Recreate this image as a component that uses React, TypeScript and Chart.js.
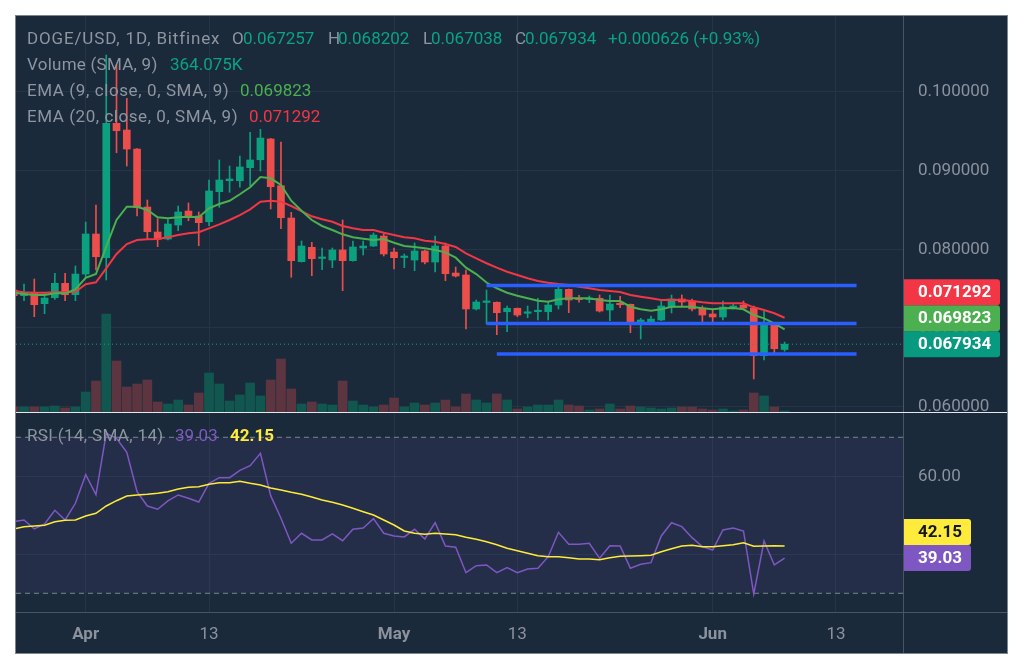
import React, { useEffect, useRef } from 'react';
import { Chart, registerables } from 'chart.js';

Chart.register(...registerables);

// ---- data (daily candles; day 0 = Apr 1, first candle = Mar 25) ----
const START_DAY = -7;
const OPEN = [
  0.07482, 0.07410, 0.07453, 0.07308, 0.07384, 0.07567, 0.07422,
  0.07685, 0.08194, 0.07893, 0.09601, 0.09516, 0.09274, 0.08537, 0.08219, 0.08130, 0.08308,
  0.08486, 0.08423, 0.08350, 0.08732, 0.08871, 0.08871, 0.09037, 0.09138, 0.09402, 0.08808,
  0.08397, 0.07842, 0.08025, 0.07883, 0.07863, 0.07991, 0.07855, 0.08016, 0.08041, 0.08168,
  0.07965, 0.07895, 0.07863, 0.07978, 0.07838, 0.08041, 0.07698, 0.07673, 0.07241, 0.07324,
  0.07326, 0.07206, 0.07250, 0.07186, 0.07206, 0.07206, 0.07291, 0.07491, 0.07377, 0.07359,
  0.07377, 0.07228, 0.07313, 0.07300, 0.07066, 0.07075, 0.07101, 0.07266, 0.07368, 0.07342,
  0.07253, 0.07177, 0.07139, 0.07253, 0.07291, 0.07253, 0.06647, 0.07037, 0.067257,
];
const HIGH = [
  0.07508, 0.07558, 0.07622, 0.07440, 0.07694, 0.07694, 0.07787,
  0.08346, 0.08563, 0.10469, 0.10342, 0.09919, 0.09280, 0.08626, 0.08388, 0.08388, 0.08550,
  0.08588, 0.08474, 0.08880, 0.09135, 0.09058, 0.09185, 0.09487, 0.09525, 0.09410, 0.09363,
  0.08470, 0.08105, 0.08088, 0.08016, 0.08016, 0.08372, 0.08105, 0.08105, 0.08207, 0.08194,
  0.08016, 0.07940, 0.08080, 0.07991, 0.08168, 0.08080, 0.07774, 0.07736, 0.07355, 0.07482,
  0.07330, 0.07279, 0.07252, 0.07279, 0.07377, 0.07326, 0.07546, 0.07495, 0.07415, 0.07406,
  0.07419, 0.07419, 0.07402, 0.07304, 0.07122, 0.07152, 0.07355, 0.07419, 0.07419, 0.07368,
  0.07279, 0.07241, 0.07342, 0.07304, 0.07342, 0.07279, 0.07215, 0.07040, 0.068202,
];
const LOW = [
  0.07380, 0.07346, 0.07143, 0.07181, 0.07364, 0.07346, 0.07346,
  0.07651, 0.07736, 0.07609, 0.09227, 0.09058, 0.08423, 0.08127, 0.08033, 0.08118, 0.08236,
  0.08363, 0.08045, 0.08299, 0.08533, 0.08724, 0.08788, 0.08808, 0.08995, 0.08512, 0.08261,
  0.07644, 0.07838, 0.07664, 0.07740, 0.07766, 0.07473, 0.07850, 0.07927, 0.08035, 0.07914,
  0.07749, 0.07766, 0.07727, 0.07813, 0.07711, 0.07600, 0.07647, 0.06986, 0.07228, 0.07050,
  0.06914, 0.06952, 0.07143, 0.07130, 0.07101, 0.07101, 0.07241, 0.07194, 0.07326, 0.07321,
  0.07202, 0.07092, 0.07257, 0.06939, 0.06859, 0.07066, 0.07092, 0.07190, 0.07279, 0.07215,
  0.07063, 0.07075, 0.07101, 0.07241, 0.07241, 0.06351, 0.06592, 0.06685, 0.067038,
];
const CLOSE = [
  0.07410, 0.07453, 0.07295, 0.07380, 0.07567, 0.07422, 0.07685,
  0.08194, 0.07905, 0.09601, 0.09507, 0.09274, 0.08528, 0.08223, 0.08127, 0.08321, 0.08474,
  0.08406, 0.08338, 0.08741, 0.08880, 0.08893, 0.09046, 0.09135, 0.09414, 0.08795, 0.08401,
  0.07855, 0.08041, 0.07880, 0.07895, 0.07991, 0.07855, 0.08029, 0.08041, 0.08181, 0.07940,
  0.07893, 0.07908, 0.07978, 0.07838, 0.08041, 0.07689, 0.07660, 0.07241, 0.07330, 0.07330,
  0.07194, 0.07250, 0.07164, 0.07202, 0.07215, 0.07291, 0.07491, 0.07355, 0.07359, 0.07365,
  0.07215, 0.07304, 0.07295, 0.07066, 0.07101, 0.07113, 0.07279, 0.07368, 0.07330, 0.07241,
  0.07164, 0.07139, 0.07266, 0.07279, 0.07253, 0.06647, 0.07037, 0.06736, 0.067934,
];
const VOLUME_K = [
  225, 225, 225, 225, 270, 180, 225,
  900, 1395, 4410, 2295, 1125, 1260, 1440, 450, 360, 540,
  315, 855, 1755, 1260, 495, 765, 1305, 720, 1440, 2385,
  1035, 360, 450, 360, 315, 1395, 495, 315, 225, 315,
  630, 225, 405, 315, 405, 540, 225, 810, 540, 405,
  810, 540, 135, 225, 315, 315, 540, 315, 270, 90,
  135, 360, 135, 270, 225, 180, 135, 180, 225, 225,
  135, 90, 135, 45, 90, 855, 720, 225, 45,
];
const EMA9 = [
  0.07448, 0.07431, 0.07419, 0.07419, 0.07440, 0.07440, 0.07491,
  0.07638, 0.07685, 0.08033, 0.08372, 0.08541, 0.08541, 0.08499, 0.08406, 0.08394, 0.08406,
  0.08414, 0.08406, 0.08521, 0.08575, 0.08617, 0.08699, 0.08788, 0.08918, 0.08902, 0.08817,
  0.08617, 0.08490, 0.08372, 0.08296, 0.08245, 0.08190, 0.08152, 0.08134, 0.08118, 0.08130,
  0.08083, 0.08041, 0.08029, 0.08012, 0.07991, 0.07961, 0.07893, 0.07766, 0.07685, 0.07577,
  0.07504, 0.07448, 0.07410, 0.07377, 0.07346, 0.07333, 0.07364, 0.07377, 0.07377, 0.07377,
  0.07355, 0.07342, 0.07342, 0.07270, 0.07237, 0.07219, 0.07237, 0.07270, 0.07270, 0.07270,
  0.07250, 0.07237, 0.07250, 0.07253, 0.07237, 0.07164, 0.07122, 0.07059, 0.069823,
];
const EMA20 = [
  0.07469, 0.07453, 0.07448, 0.07448, 0.07453, 0.07453, 0.07460,
  0.07555, 0.07580, 0.07758, 0.07940, 0.08067, 0.08118, 0.08127, 0.08130, 0.08152, 0.08181,
  0.08203, 0.08216, 0.08266, 0.08317, 0.08372, 0.08435, 0.08508, 0.08605, 0.08617, 0.08605,
  0.08550, 0.08486, 0.08419, 0.08382, 0.08350, 0.08296, 0.08266, 0.08245, 0.08245, 0.08210,
  0.08181, 0.08152, 0.08139, 0.08109, 0.08096, 0.08067, 0.08029, 0.07949, 0.07885, 0.07822,
  0.07766, 0.07715, 0.07673, 0.07631, 0.07597, 0.07575, 0.07558, 0.07546, 0.07524, 0.07504,
  0.07482, 0.07469, 0.07457, 0.07419, 0.07397, 0.07377, 0.07355, 0.07359, 0.07355, 0.07342,
  0.07326, 0.07313, 0.07313, 0.07313, 0.07313, 0.07262, 0.07228, 0.07186, 0.071292,
];
const RSI = [
  48.36, 48.79, 46.49, 47.77, 51.28, 48.79, 53.08,
  60.41, 55.28, 71.03, 69.74, 66.15, 56.05, 52.38, 51.54, 53.67, 55.21,
  54.36, 53.41, 58.21, 59.64, 59.64, 61.54, 62.72, 65.90, 55.03, 49.23,
  42.82, 45.38, 43.67, 43.67, 45.21, 43.49, 46.41, 46.74, 49.13, 45.38,
  44.69, 44.44, 46.41, 43.92, 48.10, 42.13, 41.79, 35.28, 37.08, 37.26,
  35.28, 36.56, 35.28, 36.23, 36.41, 39.38, 45.64, 42.56, 42.56, 42.82,
  38.97, 42.21, 42.13, 36.41, 37.44, 37.85, 44.69, 48.10, 47.08, 44.26,
  41.95, 41.10, 46.23, 46.74, 45.97, 29.82, 43.41, 37.26, 39.03,
];
const RSI_MA = [
  46.49, 47.08, 47.26, 47.44, 48.36, 48.72, 48.79,
  49.82, 50.51, 52.38, 53.74, 54.95, 55.21, 55.38, 55.64, 56.05, 56.74,
  57.18, 57.33, 57.95, 58.36, 58.36, 58.72, 58.21, 57.77, 57.00, 56.49,
  55.90, 55.38, 54.69, 53.92, 53.33, 52.64, 51.79, 50.92, 50.08, 48.79,
  47.51, 45.97, 45.38, 45.13, 45.38, 45.21, 45.03, 44.36, 43.85, 43.23,
  42.46, 41.54, 40.92, 40.26, 39.64, 39.38, 39.38, 39.13, 38.79, 38.79,
  38.62, 39.13, 39.49, 39.56, 39.64, 39.74, 40.67, 41.44, 42.13, 42.31,
  41.95, 41.95, 42.21, 42.46, 42.97, 42.05, 42.13, 42.21, 42.15,
];
const TIME_TICK_DAYS = [0, 12, 30, 42, 61, 73];
const TIME_TICK_LABELS = ['Apr', '13', 'May', '13', 'Jun', '13'];
const PRICE_TICKS = [0.06, 0.07, 0.08, 0.09, 0.1];
const RSI_TICKS = [40, 60];
const RSI_UPPER = 70;
const RSI_LOWER = 30;
const LEVEL_PRICES = [0.07539, 0.07056, 0.06669];
const LEVEL_FROM = [39, 39, 40];
const LEVEL_TO = [75, 75, 75];
const CHANGE_ABS = '+0.000626';
const CHANGE_PCT = '+0.93%';
const VOLUME_SMA = '364.075K';

// ---- scale ranges / styling ----
const X_MIN = -6.78;
const X_MAX = 79.52;
const PRICE_MIN = 0.059314;
const PRICE_MAX = 0.109651;
const VOL_MAX = 17820;
const RSI_MIN = 25.2;
const RSI_MAX = 76.23;

const BG = '#1a2a3b';
const GRID = '#253547';
const AXIS_TEXT = '#8b929c';
const UP = '#0ba17f';
const DOWN = '#ec4f4b';
const VOL_UP = '#12574f';
const VOL_DOWN = '#5c3541';
const EMA9_COLOR = '#4caf50';
const EMA20_COLOR = '#f23645';
const RSI_COLOR = '#7e57c2';
const RSI_MA_COLOR = '#ffeb3b';
const LEVEL_COLOR = '#2a5eff';
const FONT = 'Roboto';

const days = CLOSE.map((_, i) => START_DAY + i);
const isUp = CLOSE.map((c, i) => c >= OPEN[i]);

function fixAxis(width?: number, height?: number) {
  return (s: any) => {
    if (width !== undefined) s.width = width;
    if (height !== undefined) s.height = height;
    s.paddingTop = 0;
    s.paddingBottom = 0;
    s.paddingLeft = 0;
    s.paddingRight = 0;
  };
}

function lastValuePlugin(axisId: string, boxWidth: number, items: { value: number; bg: string; fg: string; text: string }[]) {
  return {
    id: 'lastValue_' + axisId,
    afterDraw(chart: any) {
      const scale = chart.scales[axisId];
      const ctx = chart.ctx;
      const h = 26;
      const placed = items
        .map((it) => ({ ...it, y: scale.getPixelForValue(it.value) }))
        .sort((a, b) => b.y - a.y);
      let prev = Infinity;
      placed.forEach((p) => {
        p.y = Math.min(p.y, prev - h);
        prev = p.y;
      });
      ctx.save();
      placed.forEach((p) => {
        const x0 = scale.left;
        const y0 = p.y - h / 2;
        ctx.fillStyle = p.bg;
        ctx.beginPath();
        if (ctx.roundRect) ctx.roundRect(x0, y0, boxWidth, h, [0, 3, 3, 0]);
        else ctx.rect(x0, y0, boxWidth, h);
        ctx.fill();
        ctx.fillStyle = p.fg;
        ctx.font = `bold 17px ${FONT}`;
        ctx.textBaseline = 'middle';
        ctx.textAlign = 'left';
        ctx.fillText(p.text, x0 + 15, p.y + 1);
      });
      ctx.restore();
    },
  };
}

const timeGridScale = (showLabels: boolean) => ({
  type: 'linear',
  min: X_MIN,
  max: X_MAX,
  offset: false,
  afterBuildTicks: (s: any) => {
    s.ticks = TIME_TICK_DAYS.map((v) => ({ value: v }));
  },
  grid: { color: GRID, drawTicks: false, offset: false },
  border: { display: false },
  ticks: {
    display: showLabels,
    autoSkip: false,
    maxRotation: 0,
    padding: 13,
    color: AXIS_TEXT,
    font: (c: any) => {
      const idx = TIME_TICK_DAYS.indexOf(c.tick ? c.tick.value : -999);
      const lbl = idx >= 0 ? TIME_TICK_LABELS[idx] : '';
      return { family: FONT, size: 17, weight: /^[A-Za-z]/.test(lbl) ? 'bold' : 'normal' };
    },
    callback: (v: any) => {
      const idx = TIME_TICK_DAYS.indexOf(Number(v));
      return idx >= 0 ? TIME_TICK_LABELS[idx] : '';
    },
  },
  afterFit: fixAxis(undefined, showLabels ? 41 : 0),
});

function MainChart() {
  const ref = useRef<HTMLCanvasElement>(null);
  useEffect(() => {
    const n = CLOSE.length - 1;
    const candleColors = isUp.map((u) => (u ? UP : DOWN));
    const levelSets = LEVEL_PRICES.map((p, k) => ({
      type: 'line',
      data: [
        { x: LEVEL_FROM[k], y: p },
        { x: LEVEL_TO[k], y: p },
      ],
      borderColor: LEVEL_COLOR,
      borderWidth: 3.5,
      pointRadius: 0,
      yAxisID: 'y',
      order: 1,
    }));
    const chart = new Chart(ref.current as HTMLCanvasElement, {
      type: 'bar',
      data: {
        datasets: [
          {
            type: 'bar',
            data: days.map((d, i) => ({ x: d, y: VOLUME_K[i] })),
            yAxisID: 'yv',
            backgroundColor: isUp.map((u) => (u ? VOL_UP : VOL_DOWN)),
            barThickness: 9,
            grouped: false,
            borderWidth: 0,
            order: 10,
          },
          {
            type: 'bar',
            data: days.map((d, i) => ({ x: d, y: [LOW[i], HIGH[i]] })),
            yAxisID: 'y',
            backgroundColor: candleColors,
            barThickness: 1,
            grouped: false,
            borderWidth: 0,
            order: 6,
          },
          {
            type: 'bar',
            data: days.map((d, i) => ({ x: d, y: [OPEN[i], CLOSE[i]] })),
            yAxisID: 'y',
            backgroundColor: candleColors,
            barThickness: 7,
            minBarLength: 1.5,
            grouped: false,
            borderWidth: 0,
            order: 5,
          },
          {
            type: 'line',
            data: days.map((d, i) => ({ x: d, y: EMA20[i] })),
            yAxisID: 'y',
            borderColor: EMA20_COLOR,
            borderWidth: 2,
            pointRadius: 0,
            order: 4,
          },
          {
            type: 'line',
            data: days.map((d, i) => ({ x: d, y: EMA9[i] })),
            yAxisID: 'y',
            borderColor: EMA9_COLOR,
            borderWidth: 2,
            pointRadius: 0,
            order: 3,
          },
          {
            type: 'line',
            data: [
              { x: X_MIN, y: CLOSE[n] },
              { x: X_MAX, y: CLOSE[n] },
            ],
            yAxisID: 'y',
            borderColor: UP,
            borderWidth: 1,
            borderDash: [1, 3],
            pointRadius: 0,
            order: 2,
          },
          ...levelSets,
        ] as any,
      },
      options: {
        responsive: false,
        animation: false,
        events: [],
        layout: { padding: 0 },
        plugins: { legend: { display: false }, tooltip: { enabled: false } },
        scales: {
          x: timeGridScale(false) as any,
          y: {
            type: 'linear',
            position: 'right',
            min: PRICE_MIN,
            max: PRICE_MAX,
            afterBuildTicks: (s: any) => {
              s.ticks = PRICE_TICKS.map((v) => ({ value: v }));
            },
            grid: { color: GRID, drawTicks: false },
            border: { display: false },
            ticks: {
              padding: 15,
              color: AXIS_TEXT,
              font: { family: FONT, size: 17 },
              callback: (v: any) => Number(v).toFixed(6),
            },
            afterFit: fixAxis(104),
          },
          yv: { type: 'linear', display: false, min: 0, max: VOL_MAX },
        },
      },
      plugins: [
        lastValuePlugin('y', 97, [
          { value: EMA20[n], bg: '#f23645', fg: '#ffffff', text: EMA20[n].toFixed(6) },
          { value: EMA9[n], bg: '#4caf50', fg: '#ffffff', text: EMA9[n].toFixed(6) },
          { value: CLOSE[n], bg: '#089981', fg: '#ffffff', text: CLOSE[n].toFixed(6) },
        ]),
      ],
    } as any);
    return () => chart.destroy();
  }, []);
  return (
    <canvas
      ref={ref}
      width={991}
      height={396}
      style={{ position: 'absolute', left: 16, top: 16, width: 991, height: 396 }}
    />
  );
}

function RsiChart() {
  const ref = useRef<HTMLCanvasElement>(null);
  useEffect(() => {
    const n = RSI.length - 1;
    const chart = new Chart(ref.current as HTMLCanvasElement, {
      type: 'line',
      data: {
        datasets: [
          {
            data: [
              { x: X_MIN, y: RSI_UPPER },
              { x: X_MAX, y: RSI_UPPER },
            ],
            borderColor: '#7c8590',
            borderWidth: 1,
            borderDash: [5, 4],
            pointRadius: 0,
            fill: { value: RSI_LOWER },
            backgroundColor: 'rgba(126,87,194,0.1)',
            order: 5,
          },
          {
            data: [
              { x: X_MIN, y: RSI_LOWER },
              { x: X_MAX, y: RSI_LOWER },
            ],
            borderColor: '#7c8590',
            borderWidth: 1,
            borderDash: [5, 4],
            pointRadius: 0,
            fill: false,
            order: 4,
          },
          {
            data: days.map((d, i) => ({ x: d, y: RSI[i] })),
            borderColor: RSI_COLOR,
            borderWidth: 1.5,
            pointRadius: 0,
            fill: false,
            order: 3,
          },
          {
            data: days.map((d, i) => ({ x: d, y: RSI_MA[i] })),
            borderColor: RSI_MA_COLOR,
            borderWidth: 1.5,
            pointRadius: 0,
            fill: false,
            order: 2,
          },
        ] as any,
      },
      options: {
        responsive: false,
        animation: false,
        events: [],
        layout: { padding: 0 },
        plugins: { legend: { display: false }, tooltip: { enabled: false } },
        scales: {
          x: timeGridScale(true) as any,
          y: {
            type: 'linear',
            position: 'right',
            min: RSI_MIN,
            max: RSI_MAX,
            afterBuildTicks: (s: any) => {
              s.ticks = RSI_TICKS.map((v) => ({ value: v }));
            },
            grid: { color: GRID, drawTicks: false },
            border: { display: false },
            ticks: {
              padding: 15,
              color: AXIS_TEXT,
              font: { family: FONT, size: 17 },
              callback: (v: any) => Number(v).toFixed(2),
            },
            afterFit: fixAxis(104),
          },
        },
      },
      plugins: [
        lastValuePlugin('y', 68, [
          { value: RSI_MA[n], bg: '#ffeb3b', fg: '#131722', text: RSI_MA[n].toFixed(2) },
          { value: RSI[n], bg: '#7e57c2', fg: '#ffffff', text: RSI[n].toFixed(2) },
        ]),
      ],
    } as any);
    return () => chart.destroy();
  }, []);
  return (
    <canvas
      ref={ref}
      width={991}
      height={240}
      style={{ position: 'absolute', left: 16, top: 413, width: 991, height: 240 }}
    />
  );
}

const GRAY = '#8e959f';
const TEAL = '#0ba383';

function T(props: { x: number; y: number; color: string; text: string; bold?: boolean; ls?: number }) {
  return (
    <span
      style={{
        position: 'absolute',
        left: props.x,
        top: props.y - 11,
        lineHeight: '22px',
        fontSize: 17,
        fontFamily: FONT,
        fontWeight: props.bold ? 'bold' : 'normal',
        letterSpacing: props.ls ? `${props.ls}px` : undefined,
        color: props.color,
        whiteSpace: 'nowrap',
      }}
    >
      {props.text}
    </span>
  );
}

export default function App() {
  const n = CLOSE.length - 1;
  return (
    <div style={{ position: 'fixed', left: 0, top: 0, width: 1014, height: 656, background: '#ffffff', overflow: 'hidden' }}>
      <div
        style={{
          position: 'absolute',
          left: 15,
          top: 15,
          width: 993,
          height: 639,
          boxSizing: 'border-box',
          border: '1px solid #7d8590',
          background: BG,
        }}
      />
      <MainChart />
      <RsiChart />
      <div style={{ position: 'absolute', left: 903, top: 16, width: 1, height: 637, background: '#4a5562' }} />
      <div style={{ position: 'absolute', left: 16, top: 412, width: 991, height: 1, background: '#e6e8eb' }} />
      <div style={{ position: 'absolute', left: 16, top: 612, width: 991, height: 1, background: '#4a5562' }} />

      <T x={27} y={38} color={GRAY} text="DOGE/USD, 1D, Bitfinex" ls={0.85} />
      <T x={232} y={38} color={GRAY} text="O" />
      <T x={243} y={38} color={TEAL} text={OPEN[n].toFixed(6)} />
      <T x={328} y={38} color={GRAY} text="H" />
      <T x={338} y={38} color={TEAL} text={HIGH[n].toFixed(6)} />
      <T x={423} y={38} color={GRAY} text="L" />
      <T x={431} y={38} color={TEAL} text={LOW[n].toFixed(6)} />
      <T x={515} y={38} color={GRAY} text="C" />
      <T x={525} y={38} color={TEAL} text={CLOSE[n].toFixed(6)} />
      <T x={608} y={38} color={TEAL} text={`${CHANGE_ABS} (${CHANGE_PCT})`} />

      <T x={27} y={64} color={GRAY} text="Volume (SMA, 9)" ls={0.25} />
      <T x={170} y={64} color={TEAL} text={VOLUME_SMA} />
      <T x={27} y={90} color={GRAY} text="EMA (9, close, 0, SMA, 9)" ls={0.6} />
      <T x={240} y={90} color={EMA9_COLOR} text={EMA9[n].toFixed(6)} />
      <T x={27} y={116} color={GRAY} text="EMA (20, close, 0, SMA, 9)" ls={0.55} />
      <T x={249} y={116} color={EMA20_COLOR} text={EMA20[n].toFixed(6)} />

      <T x={27} y={435} color={GRAY} text="RSI (14, SMA, 14)" ls={0.35} />
      <T x={175} y={435} color={RSI_COLOR} text={RSI[n].toFixed(2)} />
      <T x={230} y={435} color={RSI_MA_COLOR} text={RSI_MA[n].toFixed(2)} bold />
    </div>
  );
}
